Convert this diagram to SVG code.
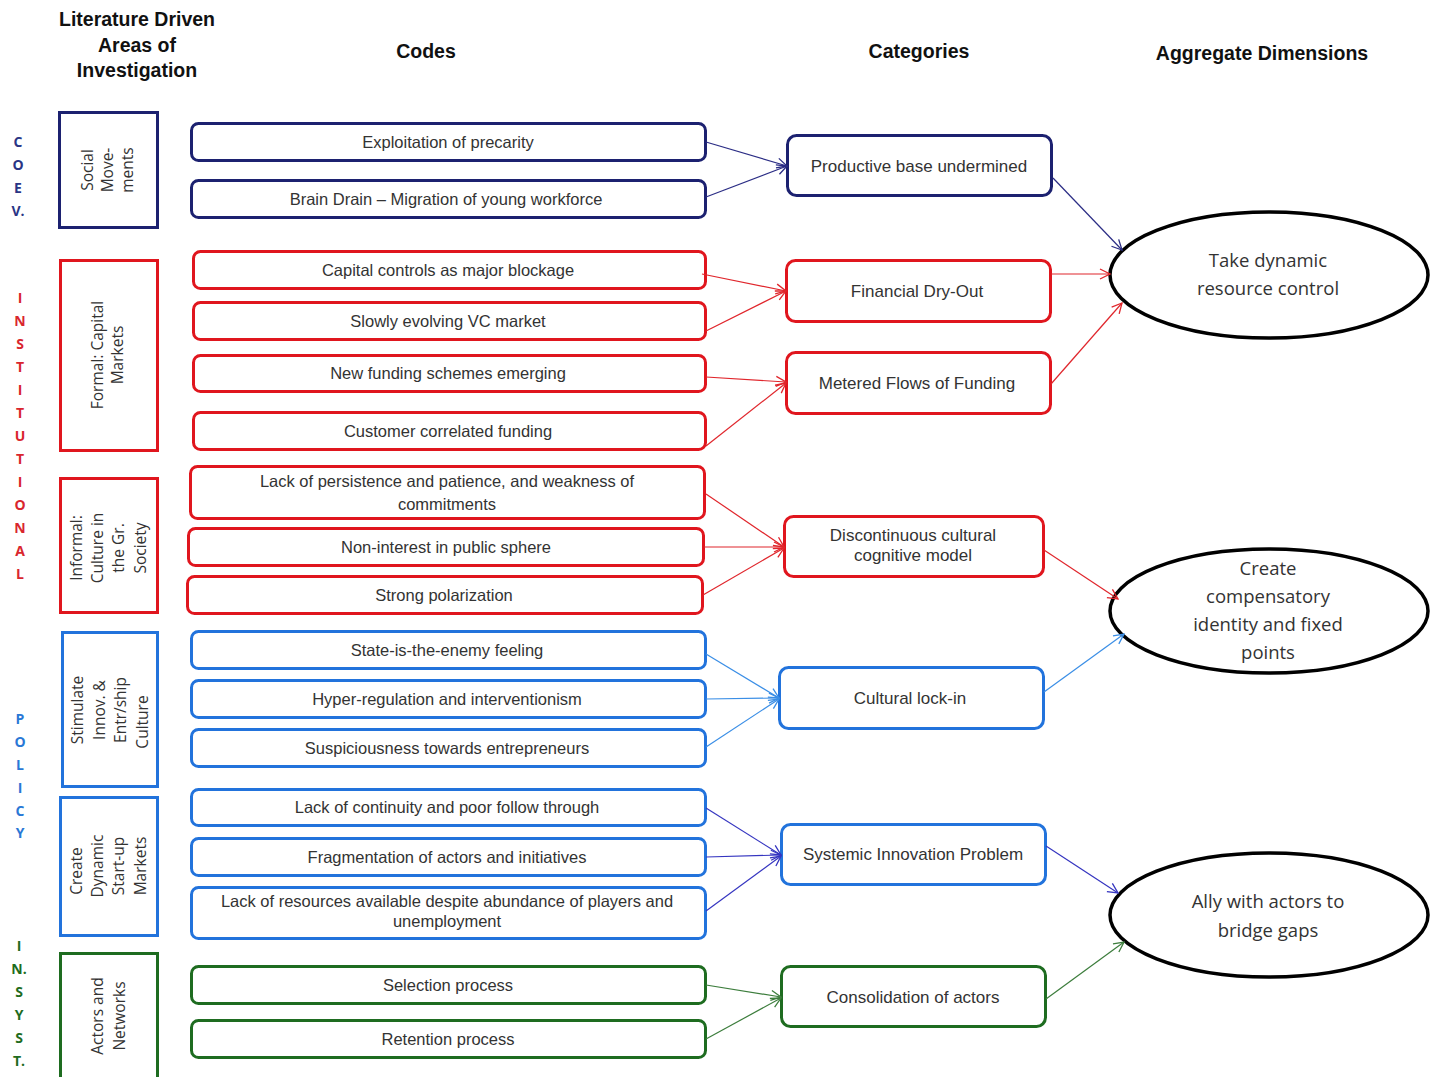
<svg xmlns="http://www.w3.org/2000/svg" width="1442" height="1077" viewBox="0 0 1442 1077">
  <style>
    .hdr { font-family: "Liberation Sans", Arial, sans-serif; font-weight: bold; font-size: 19.5px; fill: #111; text-anchor: middle; }
    .side { font-family: "Open Sans", "Liberation Sans", sans-serif; font-weight: bold; font-size: 14px; text-anchor: middle; }
    .area { font-family: "Open Sans", "Liberation Sans", sans-serif; font-size: 15.5px; fill: #333; text-anchor: middle; }
    .code { font-family: "Liberation Sans", Arial, sans-serif; font-size: 16.5px; fill: #333; text-anchor: middle; }
    .cat { font-family: "Liberation Sans", Arial, sans-serif; font-size: 17px; fill: #333; text-anchor: middle; }
    .dim { font-family: "Open Sans", "Liberation Sans", sans-serif; font-size: 18.5px; fill: #333; text-anchor: middle; }
    .box { fill: #fff; stroke-width: 3; }
    .navy { stroke: #1c2170; }
    .red { stroke: #e0161e; }
    .blue { stroke: #2273dc; }
    .green { stroke: #1e6c20; }
    .ell { fill: #fff; stroke: #000; stroke-width: 3.5; }
    .ln { fill: none; stroke-width: 1.2; }
  </style>
  <defs>
    <marker id="aNavy" markerWidth="12" markerHeight="12" refX="11" refY="6" orient="auto" markerUnits="userSpaceOnUse">
      <path d="M1,1 L11,6 L1,11" fill="none" stroke="#2b2d85" stroke-width="1.3"/>
    </marker>
    <marker id="aRed" markerWidth="12" markerHeight="12" refX="11" refY="6" orient="auto" markerUnits="userSpaceOnUse">
      <path d="M1,1 L11,6 L1,11" fill="none" stroke="#e0262c" stroke-width="1.3"/>
    </marker>
    <marker id="aBlue" markerWidth="12" markerHeight="12" refX="11" refY="6" orient="auto" markerUnits="userSpaceOnUse">
      <path d="M1,1 L11,6 L1,11" fill="none" stroke="#3a8ee6" stroke-width="1.3"/>
    </marker>
    <marker id="aIndigo" markerWidth="12" markerHeight="12" refX="11" refY="6" orient="auto" markerUnits="userSpaceOnUse">
      <path d="M1,1 L11,6 L1,11" fill="none" stroke="#3535c0" stroke-width="1.3"/>
    </marker>
    <marker id="aGreen" markerWidth="12" markerHeight="12" refX="11" refY="6" orient="auto" markerUnits="userSpaceOnUse">
      <path d="M1,1 L11,6 L1,11" fill="none" stroke="#3c7d3c" stroke-width="1.3"/>
    </marker>
  </defs>

  <rect width="1442" height="1077" fill="#fff"/>

  <!-- column headings -->
  <g id="headings">
    <text class="hdr" x="137" y="26">Literature Driven</text>
    <text class="hdr" x="137" y="52">Areas of</text>
    <text class="hdr" x="137" y="77">Investigation</text>
    <text class="hdr" x="426" y="58">Codes</text>
    <text class="hdr" x="919" y="58">Categories</text>
    <text class="hdr" x="1262" y="60">Aggregate Dimensions</text>
  </g>

  <!-- vertical side labels -->
  <g id="side-coev" class="side" fill="#2a3585">
    <text x="18" y="147">C</text>
    <text x="18" y="170">O</text>
    <text x="18" y="193">E</text>
    <text x="18" y="216">V.</text>
  </g>
  <g id="side-institutional" class="side" fill="#d9262e">
    <text x="20" y="303">I</text>
    <text x="20" y="326">N</text>
    <text x="20" y="349">S</text>
    <text x="20" y="372">T</text>
    <text x="20" y="395">I</text>
    <text x="20" y="418">T</text>
    <text x="20" y="441">U</text>
    <text x="20" y="464">T</text>
    <text x="20" y="487">I</text>
    <text x="20" y="510">O</text>
    <text x="20" y="533">N</text>
    <text x="20" y="556">A</text>
    <text x="20" y="579">L</text>
  </g>
  <g id="side-policy" class="side" fill="#2a78d6">
    <text x="20" y="724">P</text>
    <text x="20" y="747">O</text>
    <text x="20" y="770">L</text>
    <text x="20" y="793">I</text>
    <text x="20" y="816">C</text>
    <text x="20" y="838">Y</text>
  </g>
  <g id="side-insyst" class="side" fill="#1e6c20">
    <text x="19" y="951">I</text>
    <text x="19" y="974">N.</text>
    <text x="19" y="997">S</text>
    <text x="19" y="1020">Y</text>
    <text x="19" y="1043">S</text>
    <text x="19" y="1066">T.</text>
  </g>

  <!-- areas of investigation -->
  <g id="area-social">
    <rect class="box navy" x="59.5" y="112.5" width="98" height="115"/>
    <text class="area" transform="translate(108,170) rotate(-90)"><tspan x="0" y="-15">Social</tspan><tspan x="0" y="5">Move-</tspan><tspan x="0" y="25">ments</tspan></text>
  </g>
  <g id="area-formal">
    <rect class="box red" x="60.5" y="260.5" width="97" height="190"/>
    <text class="area" transform="translate(108,355) rotate(-90)"><tspan x="0" y="-5">Formal: Capital</tspan><tspan x="0" y="15">Markets</tspan></text>
  </g>
  <g id="area-informal">
    <rect class="box red" x="60.5" y="478.5" width="97" height="134"/>
    <text class="area" transform="translate(108,548) rotate(-90)"><tspan x="0" y="-26">Informal:</tspan><tspan x="0" y="-5">Culture in</tspan><tspan x="0" y="16">the Gr.</tspan><tspan x="0" y="38">Society</tspan></text>
  </g>
  <g id="area-stimulate">
    <rect class="box blue" x="62.5" y="632.5" width="95" height="154"/>
    <text class="area" transform="translate(108,710) rotate(-90)"><tspan x="0" y="-25">Stimulate</tspan><tspan x="0" y="-3">Innov. &amp;</tspan><tspan x="0" y="18">Entr/ship</tspan><tspan x="-12" y="40">Culture</tspan></text>
  </g>
  <g id="area-create">
    <rect class="box blue" x="60.5" y="797.5" width="97" height="138"/>
    <text class="area" transform="translate(108,866) rotate(-90)"><tspan x="-5" y="-26">Create</tspan><tspan x="0" y="-5">Dynamic</tspan><tspan x="0" y="16">Start-up</tspan><tspan x="0" y="38">Markets</tspan></text>
  </g>
  <g id="area-actors">
    <rect class="box green" x="60.5" y="953.5" width="97" height="130"/>
    <text class="area" transform="translate(108,1016) rotate(-90)"><tspan x="0" y="-5">Actors and</tspan><tspan x="0" y="17">Networks</tspan></text>
  </g>

  <!-- codes -->
  <g id="code-1"><rect class="box navy" x="191.5" y="123.5" width="514" height="37" rx="7"/><text class="code" x="448" y="148">Exploitation of precarity</text></g>
  <g id="code-2"><rect class="box navy" x="191.5" y="180.5" width="514" height="37" rx="7"/><text class="code" x="446" y="205">Brain Drain – Migration of young workforce</text></g>
  <g id="code-3"><rect class="box red" x="193.5" y="251.5" width="512" height="37" rx="7"/><text class="code" x="448" y="276">Capital controls as major blockage</text></g>
  <g id="code-4"><rect class="box red" x="193.5" y="302.5" width="512" height="37" rx="7"/><text class="code" x="448" y="327">Slowly evolving VC market</text></g>
  <g id="code-5"><rect class="box red" x="193.5" y="355.5" width="512" height="36" rx="7"/><text class="code" x="448" y="379">New funding schemes emerging</text></g>
  <g id="code-6"><rect class="box red" x="193.5" y="412.5" width="512" height="37" rx="7"/><text class="code" x="448" y="437">Customer correlated funding</text></g>
  <g id="code-7"><rect class="box red" x="190.5" y="466.5" width="514" height="52" rx="7"/><text class="code" x="447" y="487">Lack of persistence and patience, and weakness of</text><text class="code" x="447" y="510">commitments</text></g>
  <g id="code-8"><rect class="box red" x="188.5" y="528.5" width="515" height="37" rx="7"/><text class="code" x="446" y="553">Non-interest in public sphere</text></g>
  <g id="code-9"><rect class="box red" x="187.5" y="576.5" width="515" height="37" rx="7"/><text class="code" x="444" y="601">Strong polarization</text></g>
  <g id="code-10"><rect class="box blue" x="191.5" y="631.5" width="514" height="37" rx="7"/><text class="code" x="447" y="656">State-is-the-enemy feeling</text></g>
  <g id="code-11"><rect class="box blue" x="191.5" y="680.5" width="514" height="37" rx="7"/><text class="code" x="447" y="705">Hyper-regulation and interventionism</text></g>
  <g id="code-12"><rect class="box blue" x="191.5" y="729.5" width="514" height="37" rx="7"/><text class="code" x="447" y="754">Suspiciousness towards entrepreneurs</text></g>
  <g id="code-13"><rect class="box blue" x="191.5" y="789.5" width="514" height="36" rx="7"/><text class="code" x="447" y="813">Lack of continuity and poor follow through</text></g>
  <g id="code-14"><rect class="box blue" x="191.5" y="838.5" width="514" height="37" rx="7"/><text class="code" x="447" y="863">Fragmentation of actors and initiatives</text></g>
  <g id="code-15"><rect class="box blue" x="191.5" y="887.5" width="514" height="51" rx="7"/><text class="code" x="447" y="907">Lack of resources available despite abundance of players and</text><text class="code" x="447" y="927">unemployment</text></g>
  <g id="code-16"><rect class="box green" x="191.5" y="966.5" width="514" height="37" rx="7"/><text class="code" x="448" y="991">Selection process</text></g>
  <g id="code-17"><rect class="box green" x="191.5" y="1020.5" width="514" height="37" rx="7"/><text class="code" x="448" y="1045">Retention process</text></g>

  <!-- categories -->
  <g id="cat-productive"><rect class="box navy" x="787.5" y="135.5" width="264" height="60" rx="9"/><text class="cat" x="919" y="172">Productive base undermined</text></g>
  <g id="cat-financial"><rect class="box red" x="786.5" y="260.5" width="264" height="61" rx="9"/><text class="cat" x="917" y="297">Financial Dry-Out</text></g>
  <g id="cat-metered"><rect class="box red" x="786.5" y="352.5" width="264" height="61" rx="9"/><text class="cat" x="917" y="389">Metered Flows of Funding</text></g>
  <g id="cat-discontinuous"><rect class="box red" x="784.5" y="516.5" width="259" height="60" rx="9"/><text class="cat" x="913" y="541">Discontinuous cultural</text><text class="cat" x="913" y="561">cognitive model</text></g>
  <g id="cat-lockin"><rect class="box blue" x="779.5" y="667.5" width="264" height="61" rx="9"/><text class="cat" x="910" y="704">Cultural lock-in</text></g>
  <g id="cat-systemic"><rect class="box blue" x="781.5" y="824.5" width="264" height="60" rx="9"/><text class="cat" x="913" y="860">Systemic Innovation Problem</text></g>
  <g id="cat-consolidation"><rect class="box green" x="781.5" y="966.5" width="264" height="60" rx="9"/><text class="cat" x="913" y="1003">Consolidation of actors</text></g>

  <!-- aggregate dimensions -->
  <g id="dim-resource"><ellipse class="ell" cx="1269" cy="275" rx="159" ry="63"/><text class="dim" x="1268" y="267">Take dynamic</text><text class="dim" x="1268" y="295">resource control</text></g>
  <g id="dim-identity"><ellipse class="ell" cx="1269" cy="611" rx="159" ry="62"/><text class="dim" x="1268" y="575">Create</text><text class="dim" x="1268" y="603">compensatory</text><text class="dim" x="1268" y="631">identity and fixed</text><text class="dim" x="1268" y="659">points</text></g>
  <g id="dim-ally"><ellipse class="ell" cx="1269" cy="915" rx="159" ry="62"/><text class="dim" x="1268" y="908">Ally with actors to</text><text class="dim" x="1268" y="937">bridge gaps</text></g>

  <!-- connectors -->
  <g id="connectors">
    <g class="ln" stroke="#2b2d85">
      <line x1="706" y1="142" x2="787" y2="166" marker-end="url(#aNavy)"/>
      <line x1="706" y1="197" x2="787" y2="166" marker-end="url(#aNavy)"/>
      <line x1="1053" y1="178" x2="1122" y2="250" marker-end="url(#aNavy)"/>
    </g>
    <g class="ln" stroke="#e0262c">
      <line x1="702" y1="274" x2="786" y2="291" marker-end="url(#aRed)"/>
      <line x1="706" y1="331" x2="786" y2="291" marker-end="url(#aRed)"/>
      <line x1="706" y1="377" x2="786" y2="382" marker-end="url(#aRed)"/>
      <line x1="706" y1="446" x2="786" y2="383" marker-end="url(#aRed)"/>
      <line x1="1051" y1="274" x2="1110" y2="274" marker-end="url(#aRed)"/>
      <line x1="1051" y1="384" x2="1122" y2="303" marker-end="url(#aRed)"/>
      <line x1="706" y1="494" x2="784" y2="547" marker-end="url(#aRed)"/>
      <line x1="704" y1="547" x2="784" y2="547" marker-end="url(#aRed)"/>
      <line x1="703" y1="595" x2="784" y2="548" marker-end="url(#aRed)"/>
      <line x1="1044" y1="550" x2="1118" y2="599" marker-end="url(#aRed)"/>
    </g>
    <g class="ln" stroke="#3a8ee6">
      <line x1="706" y1="654" x2="779" y2="698" marker-end="url(#aBlue)"/>
      <line x1="706" y1="699" x2="779" y2="698" marker-end="url(#aBlue)"/>
      <line x1="706" y1="747" x2="779" y2="699" marker-end="url(#aBlue)"/>
      <line x1="1044" y1="692" x2="1124" y2="634" marker-end="url(#aBlue)"/>
    </g>
    <g class="ln" stroke="#3535c0">
      <line x1="706" y1="808" x2="781" y2="855" marker-end="url(#aIndigo)"/>
      <line x1="706" y1="857" x2="781" y2="855" marker-end="url(#aIndigo)"/>
      <line x1="706" y1="911" x2="781" y2="856" marker-end="url(#aIndigo)"/>
      <line x1="1046" y1="846" x2="1118" y2="893" marker-end="url(#aIndigo)"/>
    </g>
    <g class="ln" stroke="#3c7d3c">
      <line x1="706" y1="985" x2="781" y2="997" marker-end="url(#aGreen)"/>
      <line x1="706" y1="1039" x2="781" y2="998" marker-end="url(#aGreen)"/>
      <line x1="1046" y1="999" x2="1124" y2="942" marker-end="url(#aGreen)"/>
    </g>
  </g>
</svg>
